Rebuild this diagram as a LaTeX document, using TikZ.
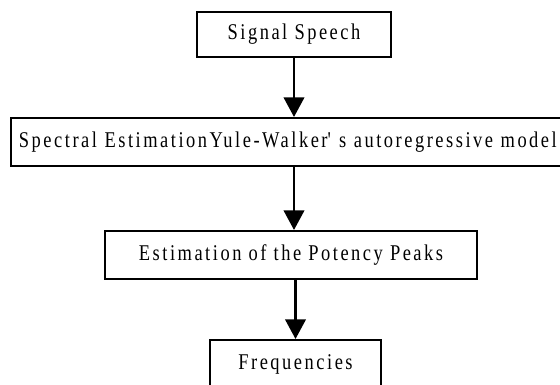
\documentclass[tikz,border=0pt]{standalone}
\usepackage{fontspec}
\setmainfont{Liberation Serif}[FakeStretch=0.82,LetterSpace=11.2]
\usetikzlibrary{arrows.meta}

\begin{document}
\begin{tikzpicture}[draw=black!100,scale=1.0]
 	\def \rowone{-0.8625cm}
 	\def \rowtwo{-3.55cm}
 	\def \rowthree{-6.375cm}
 	\def \rowfour{-9.1cm}
 	\tikzstyle{box-node}=[rectangle,draw=black!100,line width=1.4pt,inner sep=0pt,font=\fontsize{16}{19}\selectfont]
 	\tikzstyle{flow}=[line width=2pt,-{Triangle[length=14pt,width=14.5pt]}]
 	% page frame, the picture is cut at the right and the bottom
 	\useasboundingbox (0,0) rectangle (14cm,-9.625cm);
 	\clip (0,0) rectangle (14cm,-9.625cm);
 	% boxes
 	\node[box-node,minimum width=4.85cm,minimum height=1.125cm]	(sig)	at (7.35cm,\rowone)	{Signal Speech};
 	\node[box-node,anchor=west,inner xsep=0.2cm,text width=13.8cm,align=left,minimum height=1.2cm]	(spec)	at (0.25cm,\rowtwo)	{Spectral EstimationYule-Walker\textquotesingle{} s autoregressive model};
 	\node[box-node,minimum width=9.3cm,minimum height=1.2cm]	(peak)	at (7.275cm,\rowthree)	{Estimation of the Potency Peaks\hspace{0.3cm}};
 	\node[box-node,minimum width=4.275cm,minimum height=1.2cm]	(freq)	at (7.3875cm,\rowfour)	{Frequencies\hspace{0.3cm}};
 	% arrows
 	\path (sig.south)	edge[flow]	(sig.south |- spec.north)
 		(sig.south |- spec.south)	edge[flow]	(sig.south |- peak.north)
 		(freq.north |- peak.south)	edge[flow]	(freq.north);
\end{tikzpicture}
\end{document}
